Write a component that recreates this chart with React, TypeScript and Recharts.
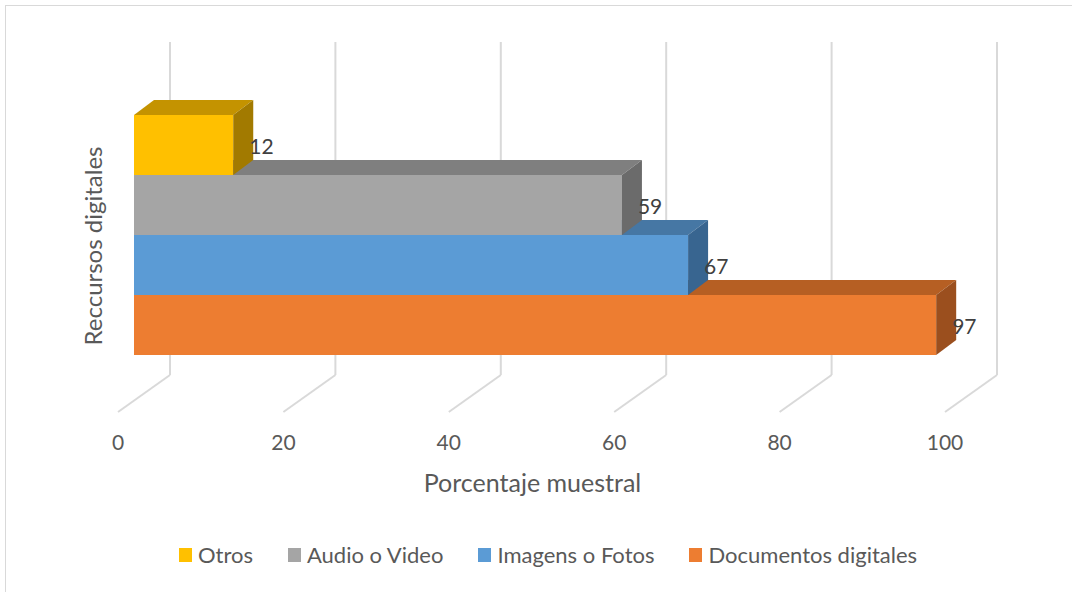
import { BarChart, Bar, XAxis, YAxis, CartesianGrid, Legend, LabelList, Label } from "recharts";

// series in legend order (top bar first)
const seriesNames = ["Otros", "Audio o Video", "Imagens o Fotos", "Documentos digitales"];
const seriesValues = [12, 59, 67, 97];
const xTicks = [0, 20, 40, 60, 80, 100];

const frontColors = ["#FFC000", "#A5A5A5", "#5B9BD5", "#ED7D31"];
const topColors = ["#C49300", "#7F7F7F", "#4677A4", "#B65F23"];
const sideColors = ["#A27A00", "#6B6B6B", "#386590", "#9B4F1E"];

const FONT = "Lato, 'Open Sans', sans-serif";
const DX = 20; // bar depth
const DY = -15;
const WALL_DX = 36; // back wall offset
const FLOOR_DX = -16; // floor front edge offset

// bottom bar drawn first so upper bars overlap the top faces correctly
const data = seriesNames
  .map((name, idx) => ({ name, value: seriesValues[idx], idx }))
  .reverse();

const Bar3D = (props: any) => {
  const { x, y, width, height, payload } = props;
  const i = payload.idx;
  return (
    <g>
      <rect x={x} y={y} width={width} height={height} fill={frontColors[i]} />
      <polygon
        points={`${x},${y} ${x + DX},${y + DY} ${x + width + DX},${y + DY} ${x + width},${y}`}
        fill={topColors[i]}
      />
      <polygon
        points={`${x + width},${y} ${x + width + DX},${y + DY} ${x + width + DX},${y + height + DY} ${x + width},${y + height}`}
        fill={sideColors[i]}
      />
    </g>
  );
};

const WallLine = (props: any) => {
  const { x1, y1, y2 } = props;
  return (
    <line
      x1={x1 + WALL_DX}
      x2={x1 + WALL_DX}
      y1={y1 - 73}
      y2={y2 + 20}
      stroke="#D9D9D9"
      strokeWidth={2}
    />
  );
};

const FloorTick = (props: any) => {
  const { x, y, payload } = props;
  return (
    <g>
      <line
        x1={x + WALL_DX}
        y1={y + 20}
        x2={x + FLOOR_DX}
        y2={y + 57}
        stroke="#D9D9D9"
        strokeWidth={2}
      />
      <text
        x={x + FLOOR_DX}
        y={y + 86}
        textAnchor="middle"
        dominantBaseline="central"
        fontFamily={FONT}
        fontSize={21}
        fill="#595959"
      >
        {payload.value}
      </text>
    </g>
  );
};

const ValueLabel = (props: any) => {
  const { x, y, width, height, value } = props;
  return (
    <text
      x={x + width + 16}
      y={y + height / 2}
      dominantBaseline="central"
      fontFamily={FONT}
      fontSize={21}
      fill="#404040"
    >
      {value}
    </text>
  );
};

const XTitle = (props: any) => {
  const { x, y, width } = props.viewBox;
  return (
    <text
      x={x + width / 2 - 15}
      y={y + 127}
      textAnchor="middle"
      dominantBaseline="central"
      fontFamily={FONT}
      fontSize={25}
      fill="#595959"
    >
      Porcentaje muestral
    </text>
  );
};

const YTitle = (props: any) => {
  const { x, y, width, height } = props.viewBox;
  const cx = x + width / 2 - 1;
  const cy = y + height / 2 + 11;
  return (
    <text
      x={cx}
      y={cy}
      transform={`rotate(-90, ${cx}, ${cy})`}
      textAnchor="middle"
      dominantBaseline="central"
      fontFamily={FONT}
      fontSize={24}
      fill="#595959"
    >
      Reccursos digitales
    </text>
  );
};

const LegendContent = () => (
  <div
    style={{
      display: "flex",
      justifyContent: "center",
      alignItems: "center",
      gap: 35,
      fontFamily: FONT,
      fontSize: 22,
      color: "#595959",
    }}
  >
    {seriesNames.map((name, i) => (
      <div key={name} style={{ display: "flex", alignItems: "center" }}>
        <span
          style={{
            display: "inline-block",
            width: 13,
            height: 14,
            background: frontColors[i],
            marginRight: 6,
          }}
        />
        <span>{name}</span>
      </div>
    ))}
  </div>
);

export default function App() {
  return (
    <div style={{ position: "absolute", left: 0, top: 0, width: 1072, height: 592, background: "#fff" }}>
      <svg
        width={1072}
        height={592}
        style={{ position: "absolute", left: 0, top: 0 }}
      >
        <rect x={5.5} y={5.5} width={1100} height={620} fill="none" stroke="#D9D9D9" />
      </svg>
      <div style={{ position: "absolute", left: 0, top: 0 }}>
        <BarChart
          width={1072}
          height={592}
          data={data}
          layout="vertical"
          barCategoryGap={0}
          barGap={0}
          margin={{ top: 115, right: 111, bottom: 97, left: 52 }}
        >
          <CartesianGrid horizontal={false} vertical={WallLine} />
          <XAxis
            type="number"
            domain={[0, 100]}
            ticks={xTicks}
            axisLine={false}
            tickLine={false}
            tickSize={0}
            tickMargin={0}
            height={140}
            tick={FloorTick}
            interval={0}
          >
            <Label content={XTitle} />
          </XAxis>
          <YAxis
            type="category"
            dataKey="name"
            reversed
            width={82}
            axisLine={false}
            tickLine={false}
            tick={false}
          >
            <Label content={YTitle} />
          </YAxis>
          <Legend
            layout="horizontal"
            verticalAlign="middle"
            align="center"
            content={LegendContent}
            wrapperStyle={{ top: 541, left: 12, width: 1072 }}
          />
          <Bar dataKey="value" shape={Bar3D} isAnimationActive={false}>
            <LabelList dataKey="value" content={ValueLabel} />
          </Bar>
        </BarChart>
      </div>
    </div>
  );
}
